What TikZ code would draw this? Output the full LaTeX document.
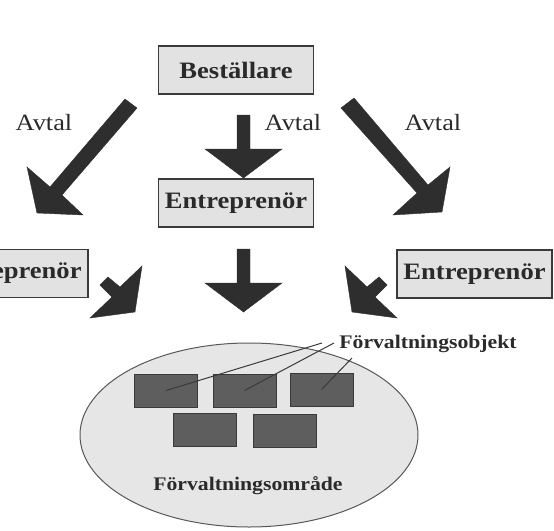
\documentclass[tikz,border=0pt]{standalone}
\usepackage{fontspec}
\usetikzlibrary{shapes.geometric}
\setmainfont{Liberation Serif}
\newfontfamily\lblfont[FakeStretch=1.13]{Liberation Serif}
\definecolor{boxfill}{HTML}{E2E2E2}
\definecolor{boxline}{HTML}{3A3A3A}
\definecolor{arrowfill}{HTML}{2E2E2E}
\definecolor{ellfill}{HTML}{E6E6E6}
\definecolor{objfill}{HTML}{5E5E5E}
\definecolor{txt}{HTML}{2A2A2A}
\begin{document}
\begin{tikzpicture}[x=1pt,y=-1pt,
  rolebox/.style={draw=boxline, line width=1.3pt, fill=boxfill, minimum width=155pt, minimum height=48pt, inner sep=0pt, text=txt, font=\lblfont\bfseries\fontsize{23.5}{26}\selectfont},
  blockarrow/.style={fill=arrowfill, draw=arrowfill, line width=0.4pt, line join=miter},
  avtal/.style={text=txt, inner sep=0pt, font=\lblfont\fontsize{23.3}{26}\selectfont},
  obj/.style={draw=boxline, line width=1pt, fill=objfill, minimum width=63pt, minimum height=33pt, inner sep=0pt},
  smalllabel/.style={text=txt, inner sep=0pt, font=\lblfont\bfseries\fontsize{19.2}{21}\selectfont},
  leader/.style={draw=boxline, line width=1pt}
]
\useasboundingbox (0,0) rectangle (554,530);
\clip (0,0) rectangle (554,530);

% area ellipse
\node[draw=boxline!85, line width=1pt, fill=ellfill, ellipse, minimum width=338pt, minimum height=184pt, inner sep=0pt] (area) at (249,435) {};
\node[smalllabel] (arealbl) at (248,486) {Förvaltningsområde};

% objects
\node[obj] (o1) at (166,390.5) {};
\node[obj] (o2) at (244.5,390.5) {};
\node[obj] (o3) at (321.5,389.5) {};
\node[obj] (o4) at (205,429.5) {};
\node[obj] (o5) at (284.5,430.5) {};

\node[smalllabel] (objlbl) at (428,344) {Förvaltningsobjekt};
\coordinate (s1) at (322,343);
\coordinate (s2) at (334,343);
\coordinate (s3) at (352,358);
\draw[leader] (s1) -- (o1.center);
\draw[leader] (s2) -- (o2.center);
\draw[leader] (s3) -- (o3.center);

% boxes
\node[rolebox] (best) at (236,70) {Beställare};
\node[rolebox] (entm) at (236,203) {Entreprenör};
\node[rolebox] (entr) at (474.5,274) {Entreprenör};
\node[rolebox] (entl) at (10.5,273.5) {Entreprenör};

% Avtal labels
\node[avtal] (av1) at (44,123) {Avtal};
\node[avtal] (av2) at (293,123) {Avtal};
\node[avtal] (av3) at (433,123) {Avtal};

% top arrows
\fill[blockarrow] (125,99) -- (137,108) -- (62,195) -- (83,215) -- (37,213) -- (27,167) -- (50,187) -- cycle;
\fill[blockarrow] (237,115) -- (250,115) -- (250,149) -- (282,149) -- (243.5,178) -- (205,149) -- (237,149) -- cycle;
\fill[blockarrow] (354,98) -- (341,108) -- (417,193) -- (393,215) -- (442,212) -- (450,167) -- (428,185) -- cycle;

% lower arrows
\fill[blockarrow] (100,285) -- (108,277) -- (120,287) -- (142,266) -- (135,312) -- (90,318) -- (112,297) -- cycle;
\fill[blockarrow] (237,249) -- (250,249) -- (250,283) -- (282,283) -- (243.5,312) -- (205,283) -- (237,283) -- cycle;
\fill[blockarrow] (387,285) -- (379,277) -- (367,287) -- (345,266) -- (352,312) -- (397,318) -- (375,297) -- cycle;
\end{tikzpicture}
\end{document}
